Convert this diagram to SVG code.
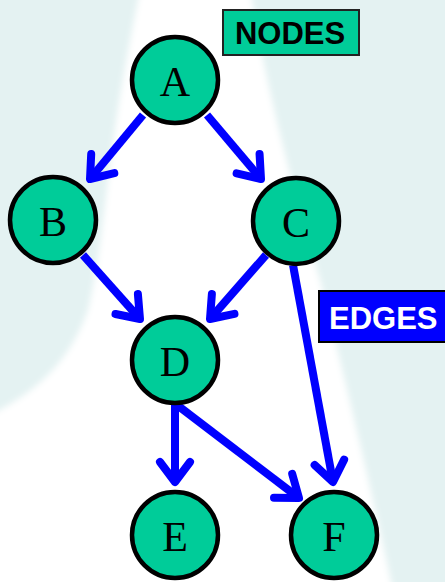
<svg xmlns="http://www.w3.org/2000/svg" width="445" height="582" viewBox="0 0 445 582">
  <style>
    .node circle { fill: #00CC99; stroke: #000; stroke-width: 4.5; }
    .node text { font-family: "Liberation Serif", "Times New Roman", serif; font-size: 42px; fill: #000; text-anchor: middle; }
    .edge { fill: none; stroke: #0000FF; stroke-width: 8; marker-end: url(#ah); }
    .lbl { font-family: "Liberation Sans", Arial, sans-serif; font-size: 31px; font-weight: bold; }
  </style>
  <defs>
    <marker id="ah" markerUnits="userSpaceOnUse" viewBox="-30 -25 40 50" markerWidth="40" markerHeight="50" refX="0" refY="0" orient="auto" overflow="visible">
      <path d="M-20,-15 L0,0 L-20,15" fill="none" stroke="#0000FF" stroke-width="8" stroke-linecap="round" stroke-linejoin="round"/>
    </marker>
    <filter id="soft" x="-10%" y="-10%" width="120%" height="120%">
      <feGaussianBlur stdDeviation="3"/>
    </filter>
  </defs>
  <g id="background">
    <rect x="0" y="0" width="445" height="582" fill="#E4F2F2"/>
    <path d="M140,-10 L250,-10 C265,80 290,180 320,280 C340,360 365,460 395,600 L-10,600 L-10,415 C40,390 70,360 88,310 C100,260 105,200 112,150 C120,90 130,40 140,-10 Z" fill="#FFFFFF" filter="url(#soft)"/>
  </g>
  <g id="connectors">
    <path class="edge" d="M143,115 L90,179"/>
    <path class="edge" d="M207,115 L261,179"/>
    <path class="edge" d="M83,255 L140,319"/>
    <path class="edge" d="M266,255 L210,319"/>
    <path class="edge" d="M293,265 L333,482"/>
    <path class="edge" d="M175,405 L175,482"/>
    <path class="edge" d="M177,405 L299,498"/>
  </g>
  <g id="node-A" class="node"><circle cx="175" cy="80" r="43"/><text x="175" y="96">A</text></g>
  <g id="node-B" class="node"><circle cx="53" cy="220" r="43"/><text x="53" y="236">B</text></g>
  <g id="node-C" class="node"><circle cx="296" cy="221" r="43"/><text x="296" y="237">C</text></g>
  <g id="node-D" class="node"><circle cx="175" cy="360" r="43"/><text x="175" y="376">D</text></g>
  <g id="node-E" class="node"><circle cx="175" cy="535" r="43"/><text x="175" y="551">E</text></g>
  <g id="node-F" class="node"><circle cx="334" cy="535" r="43"/><text x="334" y="551">F</text></g>
  <g id="label-nodes">
    <rect x="223" y="10" width="136" height="45" fill="#00CC99" stroke="#222" stroke-width="2"/>
    <text class="lbl" x="290" y="44" text-anchor="middle" fill="#000">NODES</text>
  </g>
  <g id="label-edges">
    <rect x="319" y="291" width="130" height="51" fill="#0000FF" stroke="#000" stroke-width="2"/>
    <text class="lbl" x="329" y="329" fill="#FFFFFF">EDGES</text>
  </g>
</svg>
